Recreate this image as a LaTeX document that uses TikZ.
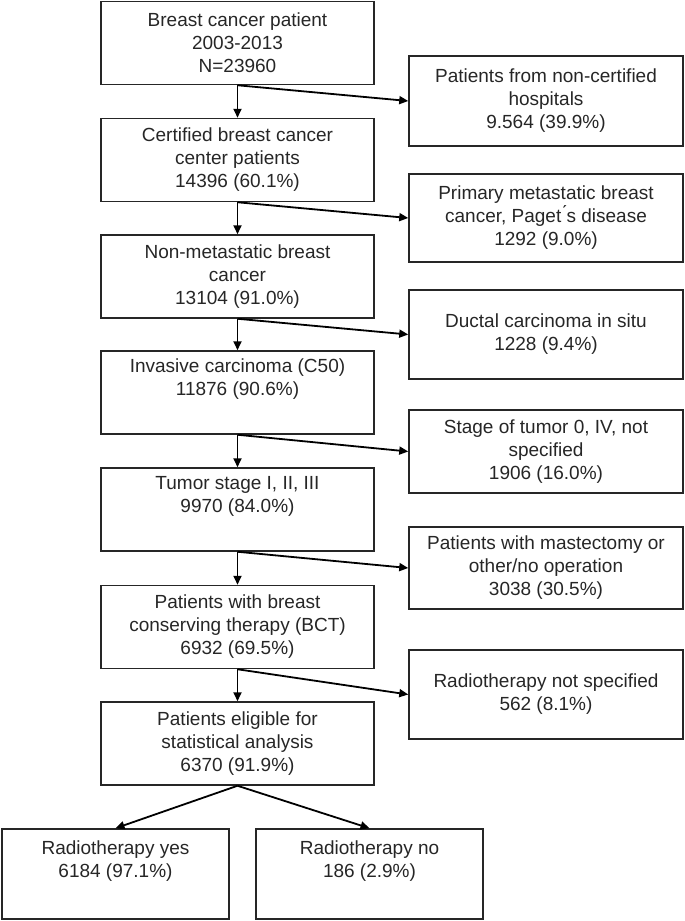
\documentclass[tikz,border=0pt]{standalone}
\usepackage{fontspec}
\setmainfont{Liberation Sans}
\usetikzlibrary{arrows.meta}
\tikzset{flowbox/.style={draw=black!85,line width=1.5pt,minimum width=273pt,minimum height=83pt,
   align=center,inner sep=0pt,font=\fontsize{19}{23}\selectfont,text=black!85},
 sidebox/.style={flowbox,minimum width=274pt},
 endbox/.style={flowbox,minimum width=227pt,minimum height=90pt},
 flow/.style={draw=black,line width=1.8pt,-{Triangle[length=9pt,width=8pt]}},
 x=1pt,y=-1pt,
 }

\begin{document}
\begin{tikzpicture}
        \useasboundingbox (0,0) rectangle (685,921);
        % main column
        \node[flowbox] (all) at (237.5,43) {Breast cancer patient\\2003-2013\\N=23960};
        \node[flowbox] (cert) at (237.5,160) {Certified breast cancer\\center patients\\14396 (60.1\%)};
        \node[flowbox] (nonmet) at (237.5,276.5) {Non-metastatic breast\\cancer\\13104 (91.0\%)};
        \node[flowbox] (inv) at (237.5,392.5) {Invasive carcinoma (C50)\\11876 (90.6\%)\\\strut};
        \node[flowbox] (stage) at (237.5,509.5) {Tumor stage I, II, III\\9970 (84.0\%)\\\strut};
        \node[flowbox] (bct) at (237.5,627) {Patients with breast\\conserving therapy (BCT)\\6932 (69.5\%)};
        \node[flowbox] (elig) at (237.5,743.5) {Patients eligible for\\statistical analysis\\6370 (91.9\%)};
        % excluded
        \node[sidebox,minimum height=90pt] (noncert) at (546,101) {Patients from non-certified\\hospitals\\9.564 (39.9\%)};
        \node[sidebox,minimum height=88pt] (meta) at (546,218) {Primary metastatic breast\\cancer, Paget\'{}s disease\\1292 (9.0\%)};
        \node[sidebox,minimum height=89pt] (dcis) at (546,334.5) {Ductal carcinoma in situ\\1228 (9.4\%)};
        \node[sidebox] (nostage) at (546,451.5) {Stage of tumor 0, IV, not\\specified\\1906 (16.0\%)};
        \node[sidebox,minimum height=82pt] (mast) at (546,568) {Patients with mastectomy or\\other/no operation\\3038 (30.5\%)};
        \node[sidebox,minimum height=89pt] (rtns) at (546,694.5) {Radiotherapy not specified\\562 (8.1\%)};
        % split
        \node[endbox] (rtyes) at (115.5,874) {Radiotherapy yes\\6184 (97.1\%)\\\strut};
        \node[endbox] (rtno) at (369.5,874) {Radiotherapy no\\186 (2.9\%)\\\strut};

        \draw[flow] (all.south) -- (cert.north);
        \draw[flow] (cert.south) -- (nonmet.north);
        \draw[flow] (nonmet.south) -- (inv.north);
        \draw[flow] (inv.south) -- (stage.north);
        \draw[flow] (stage.south) -- (bct.north);
        \draw[flow] (bct.south) -- (elig.north);
        \draw[flow] (all.south) -- (noncert.west);
        \draw[flow] (cert.south) -- (meta.west);
        \draw[flow] (nonmet.south) -- (dcis.west);
        \draw[flow] (inv.south) -- (nostage.west);
        \draw[flow] (stage.south) -- (mast.west);
        \draw[flow] (bct.south) -- (rtns.west);
        \draw[flow] (elig.south) -- (rtyes.north);
        \draw[flow] (elig.south) -- (rtno.north);
    \end{tikzpicture}
\end{document}
